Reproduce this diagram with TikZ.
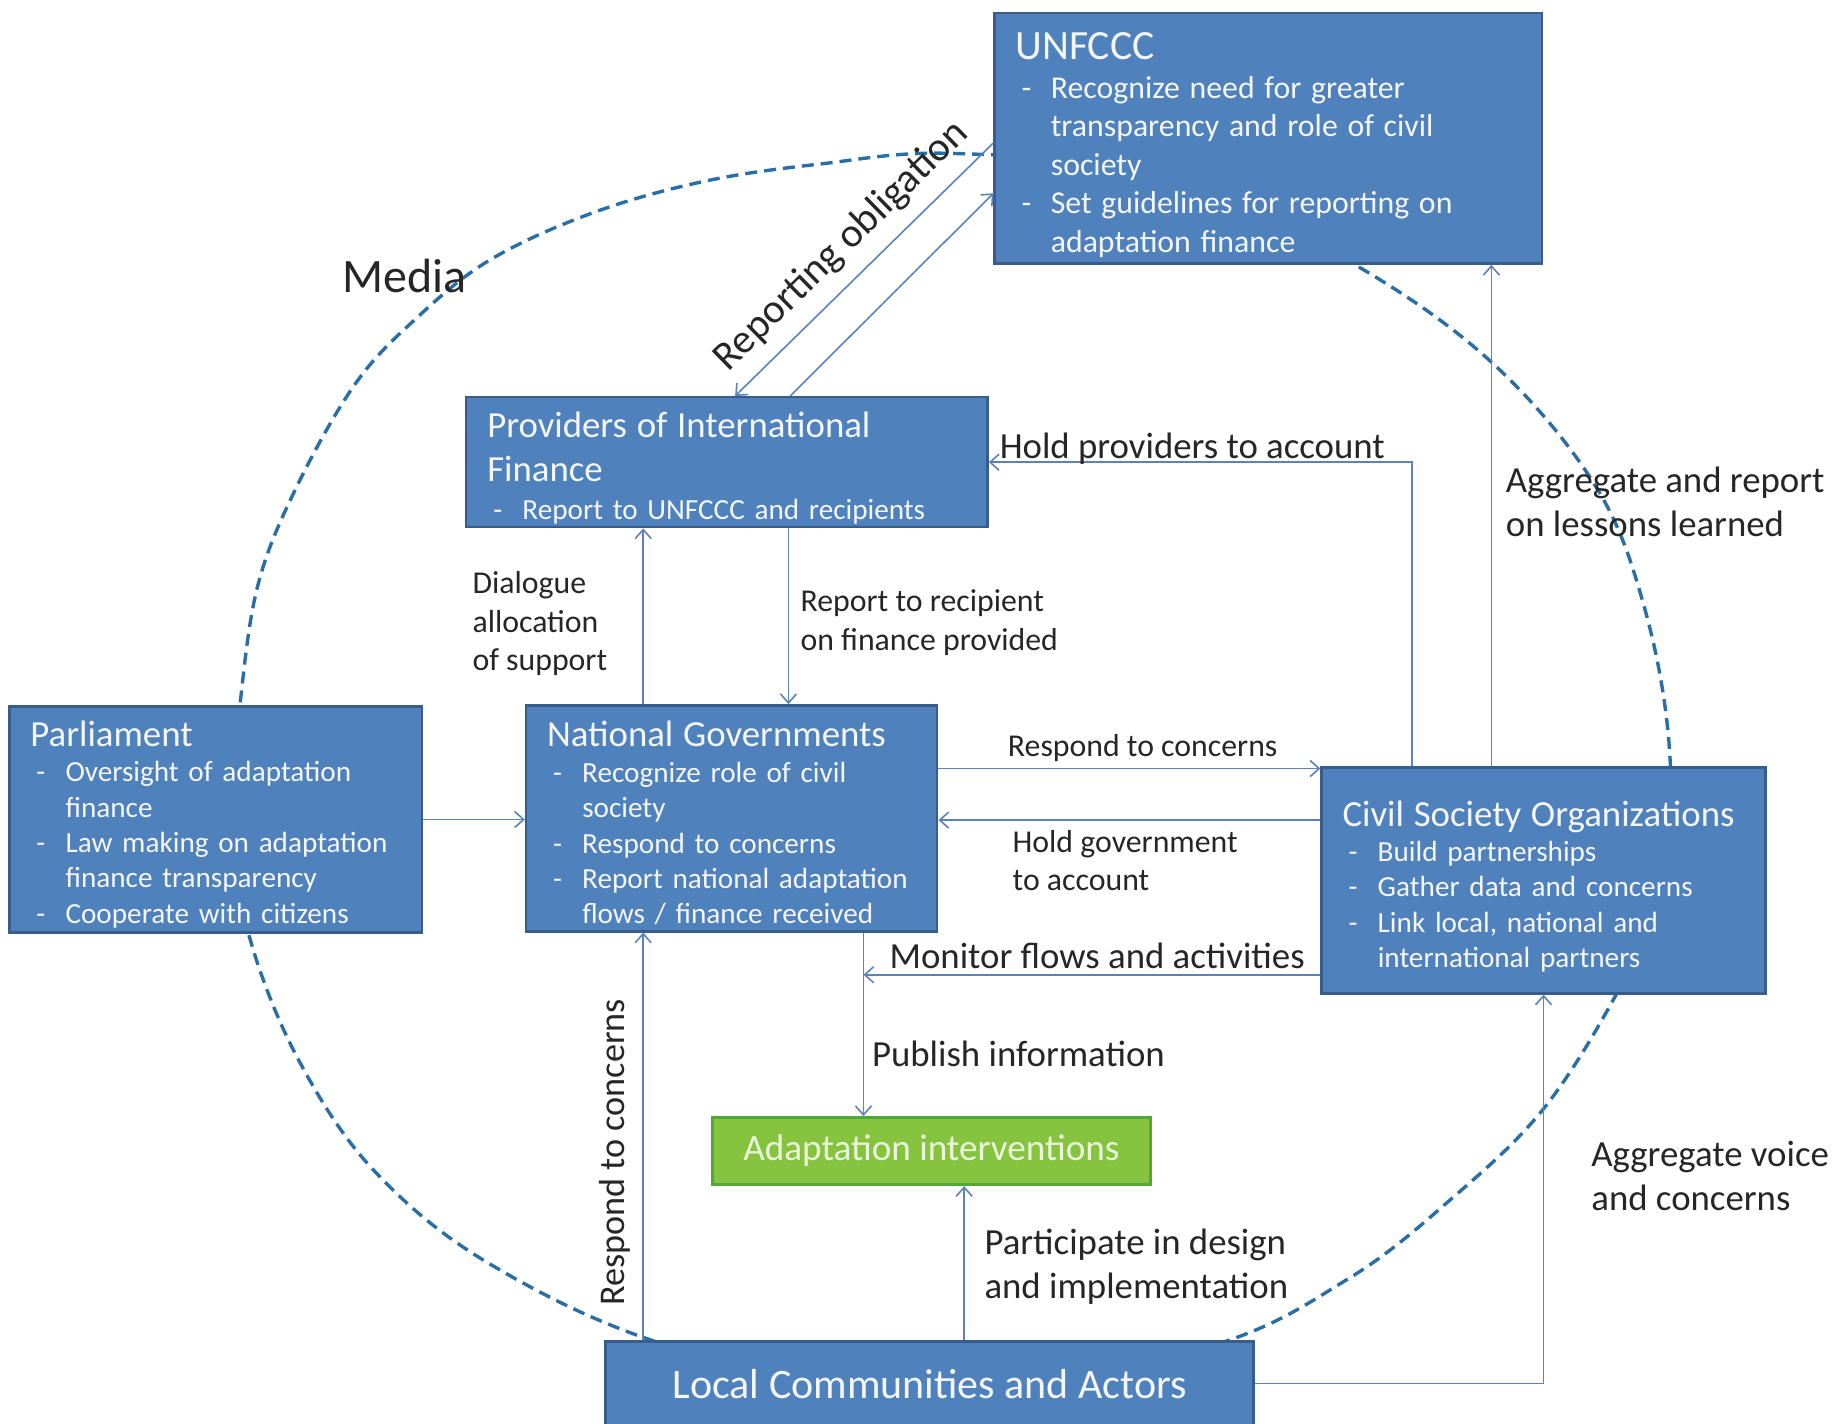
\documentclass[tikz,border=0pt]{standalone}
\usepackage{fontspec}
\setmainfont{Carlito}
\usetikzlibrary{arrows.meta, positioning, calc}

\definecolor{boxfill}{HTML}{4F81BD}
\definecolor{boxedge}{HTML}{385D8A}
\definecolor{boxtext}{HTML}{F4F6FA}
\definecolor{greenfill}{HTML}{86C440}
\definecolor{greenedge}{HTML}{4FA83A}
\definecolor{greentext}{HTML}{EAF5DC}
\definecolor{flowline}{HTML}{5B82BA}
\definecolor{labeltext}{HTML}{262626}
\definecolor{mediaring}{HTML}{2A6EA6}

\newcommand{\titlefont}{\fontsize{18.4}{22.3}\selectfont}
\newcommand{\bodyfont}{\fontsize{14.6}{17.7}\selectfont}
\newcommand{\biglabel}{\fontsize{18.4}{21.8}\selectfont}
\newcommand{\smalllabel}{\fontsize{15.9}{19.3}\selectfont}
\newcommand{\bul}{\makebox[17.6pt][l]{\hspace{3pt}-}}
\newcommand{\ind}{\makebox[17.6pt]{}}
\newcommand{\toprule}[1]{\rule{0pt}{#1}}

\begin{document}
\begin{tikzpicture}[
            x=0.5858pt, y=-0.5858pt,
            >={Straight Barb[length=4.5pt,width=8pt]},
            box/.style={
                draw=boxedge,
                fill=boxfill,
                line width=1.2pt,
                text=boxtext,
                inner xsep=10.5pt,
                inner ysep=0pt,
                align=left,
                font=\bodyfont
            },
            greenbox/.style={
                draw=greenedge,
                fill=greenfill,
                line width=1.6pt,
                text=greentext,
                align=center,
                font=\fontsize{18.6}{22}\selectfont
            },
            flow/.style={draw=flowline, line width=0.8pt},
            lbl/.style={text=labeltext, inner sep=0pt, align=left, font=\biglabel},
            media/.style={draw=mediaring, line width=1.7pt, dash pattern=on 6pt off 3.5pt}
        ]
            \useasboundingbox (0,0) rectangle (1568,1215);

            % Anel da midia
            \draw[media] plot[smooth cycle, tension=0.6] coordinates {
                (815,131) (1000,150) (1155,225) (1274,310) (1362,415) (1404,520)
                (1425,640) (1420,760) (1380,848) (1317,947) (1238,1024) (1150,1092)
                (1030,1150) (800,1195) (575,1150) (420,1080) (320,1000) (255,905)
                (213,800) (197,700) (205,600) (220,500) (252,418) (303,328)
                (355,272) (418,222) (505,182) (600,155) (700,140)};
            \node[lbl, font=\fontsize{24}{28}\selectfont, anchor=base west] (media) at (292,250) {Media};

            % Caixas
            \node[box, text width=252.6pt, minimum height=125.4pt] (unfccc) at (1082.5,118)
                {{\fontsize{20.8}{25}\selectfont\toprule{20.4pt}UNFCCC\par}
                 {\fontsize{15.9}{19.3}\selectfont
                 \bul Recognize need for greater\\
                 \ind transparency and role of civil\\
                 \ind society\\
                 \bul Set guidelines for reporting on\\
                 \ind adaptation finance\par}};

            \node[box, text width=239.7pt, minimum height=65pt] (providers) at (620.5,394.5)
                {{\titlefont\toprule{18.5pt}Providers of International\\Finance\par}
                 \vspace{1.2pt}\bul Report to UNFCCC and recipients};

            \node[box, text width=185.2pt, minimum height=113pt] (parl) at (184,699.5)
                {{\titlefont\toprule{17.7pt}Parliament\par}
                 \bul Oversight of adaptation\\
                 \ind finance\\
                 \bul Law making on adaptation\\
                 \ind finance transparency\\
                 \bul Cooperate with citizens};

            \node[box, text width=184.6pt, minimum height=113pt] (national) at (624.5,698.5)
                {{\titlefont\toprule{17.7pt}National Governments\par}
                 \bul Recognize role of civil\\
                 \ind society\\
                 \bul Respond to concerns\\
                 \bul Report national adaptation\\
                 \ind flows / finance received};

            \node[box, text width=201pt, minimum height=113pt] (cso) at (1317.5,751.5)
                {{\titlefont\toprule{18.8pt}Civil Society Organizations\par}
                 \bul Build partnerships\\
                 \bul Gather data and concerns\\
                 \bul Link local, national and\\
                 \ind international partners};

            \node[greenbox, minimum width=219pt, minimum height=33.4pt] (adapt) at (795,982.5)
                {Adaptation interventions};

            \node[box, align=center, font=\fontsize{21}{25}\selectfont,
                  minimum width=324pt, minimum height=42.2pt] (local) at (793.5,1181)
                {Local Communities and Actors};

            % Obrigacao de reporte
            \draw[flow, ->] ($(unfccc.west)+(0,4)$) -- ($(providers.north)+(7,0)$)
                node[lbl, midway, sloped, above, inner sep=7pt,
                     font=\fontsize{20.5}{24}\selectfont] {Reporting obligation};
            \draw[flow, ->] ($(providers.north)+(54,0)$) -- ($(unfccc.west)+(0,47)$);

            % Ligacoes da sociedade civil para cima
            \coordinate (holdp) at ($(cso.north)+(-112.5,0)$);
            \draw[flow, ->] (holdp) |- (providers.east);
            \node[lbl, anchor=base west] (holdplbl) at (853,391) {Hold providers to account};

            \coordinate (aggr) at ($(cso.north)+(-44.5,0)$);
            \draw[flow, ->] (aggr) -- (aggr |- unfccc.south);
            \node[lbl, anchor=base west] (aggrlbl) at (1285,458) {Aggregate and report\\on lessons learned};

            % Provedores e governos
            \coordinate (dlg) at ($(national.north)+(-75.5,0)$);
            \draw[flow, ->] (dlg) -- (dlg |- providers.south);
            \node[lbl, font=\smalllabel, anchor=base west] (dlglbl) at (403,572.5) {Dialogue\\allocation\\of support};

            \coordinate (rtr) at ($(providers.south)+(52.5,0)$);
            \draw[flow, ->] (rtr) -- (rtr |- national.north);
            \node[lbl, font=\smalllabel, anchor=base west] (rtrlbl) at (683,555) {Report to recipient\\on finance provided};

            % Parlamento
            \draw[flow, ->] (parl.east) -- (parl.east -| national.west);

            % Governos e sociedade civil
            \coordinate (resp) at ($(national.east)+(0,-42.5)$);
            \draw[flow, ->] (resp) -- (resp -| cso.west);
            \node[lbl, font=\smalllabel, anchor=base west] (resplbl) at (860,646) {Respond to concerns};

            \coordinate (holdg) at ($(cso.west)+(0,-51.5)$);
            \draw[flow, ->] (holdg) -- (holdg -| national.east);
            \node[lbl, font=\smalllabel, anchor=base west] (holdglbl) at (864,760.5) {Hold government\\to account};

            \coordinate (pub) at ($(national.south)+(112.5,0)$);
            \draw[flow, ->] (pub) -- (pub |- adapt.north);
            \node[lbl, anchor=base west] (publbl) at (744,910) {Publish information};

            \coordinate (mon) at ($(cso.west)+(0,80.5)$);
            \draw[flow, ->] (mon) -- (mon -| pub);
            \node[lbl, anchor=base west] (monlbl) at (759,827) {Monitor flows and activities};

            % Comunidades locais
            \coordinate (part) at ($(local.north)+(29.5,0)$);
            \draw[flow, ->] (part) -- (part |- adapt.south);
            \node[lbl, anchor=base west] (partlbl) at (840,1108) {Participate in design\\and implementation};

            \coordinate (respv) at ($(local.north)+(-244.5,0)$);
            \draw[flow, ->] (respv) -- (respv |- national.south);
            \node[lbl, font=\fontsize{18.1}{21.5}\selectfont, rotate=90, anchor=base west] (respvlbl) at (533,1115) {Respond to concerns};

            \draw[flow, ->] (local.east) -| (cso.south);
            \node[lbl, anchor=base west] (agvlbl) at (1358,1033) {Aggregate voice\\and concerns};
        \end{tikzpicture}
\end{document}
